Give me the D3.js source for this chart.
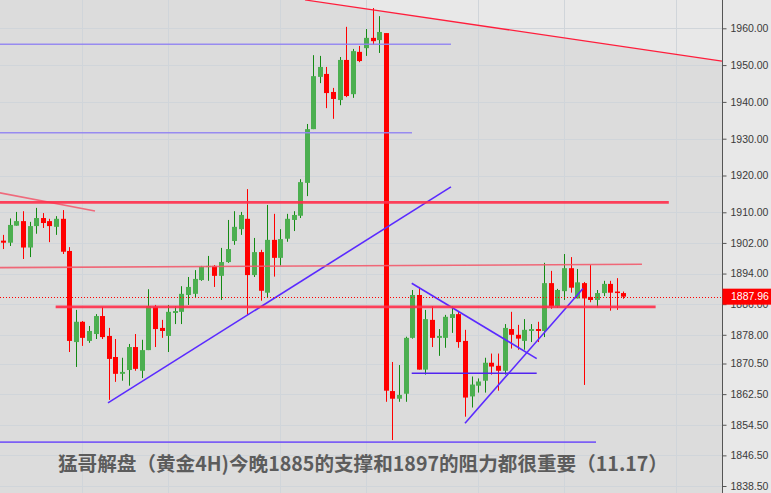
<!DOCTYPE html>
<html><head><meta charset="utf-8">
<script src="https://cdn.jsdelivr.net/npm/d3@7/dist/d3.min.js"></script>
<style>html,body{margin:0;padding:0;background:#e8e8e8;overflow:hidden}</style>
</head><body>
<svg id="c" width="771" height="493"></svg>
<script>
// ---- data ----
const opens  = [1902.6,1902.06,1906.5,1907.7,1900.8,1906.4,1908.5,1907.7,1906.2,1908.3,
1899.9,1876.1,1881.4,1876.4,1878.2,1882.9,1877.7,1872.2,1867.8,1868.8,
1874.8,1868.6,1874.0,1885.3,1879.8,1877.7,1883.7,1884.0,1888.4,1888.7,
1892.3,1895.7,1896.0,1893.4,1897.0,1902.5,1905.6,1908.3,1893.6,1899.6,
1889.0,1902.8,1898.1,1903.1,1908.0,1909.1,1918.0,1932.6,1946.8,1947.6,
1942.7,1940.5,1951.4,1942.1,1953.6,1954.6,1957.4,1956.8,1958.7,1863.3,
1861.3,1862.6,1877.2,1888.4,1868.9,1881.9,1877.2,1877.2,1882.4,1883.4,
1876.4,1861.9,1864.7,1866.0,1870.7,1869.9,1868.6,1879.5,1878.0,1876.4,
1879.0,1879.5,1879.0,1891.5,1885.5,1889.4,1895.4,1887.5,1891.5,1887.9,
1887.1,1888.9,1891.3,1889.3,1888.9];
const highs  = [1904.1,1908.4,1910.1,1910.3,1907.5,1911.2,1909.8,1908.3,1909.0,1910.6,
1900.9,1884.5,1881.6,1880.3,1883.4,1885.3,1879.8,1876.9,1872.0,1875.6,
1878.2,1876.7,1889.9,1885.8,1881.9,1885.8,1885.5,1890.7,1893.1,1894.9,
1896.0,1898.6,1896.2,1900.7,1908.0,1910.3,1910.1,1916.3,1903.3,1900.2,
1912.0,1909.6,1905.6,1909.6,1910.3,1919.0,1934.0,1952.7,1952.5,1949.5,
1943.8,1952.2,1960.4,1954.4,1955.2,1959.8,1965.5,1963.3,1958.7,1870.9,
1870.1,1877.5,1889.7,1890.5,1884.5,1885.5,1879.5,1883.2,1885.5,1884.0,
1879.3,1867.1,1866.6,1872.0,1873.1,1873.1,1880.8,1884.0,1880.6,1882.1,
1880.8,1881.4,1896.8,1894.7,1890.0,1899.1,1898.3,1895.2,1891.8,1896.2,
1889.7,1892.1,1892.1,1892.8,1889.3];
const lows   = [1900.4,1901.2,1906.5,1897.8,1898.3,1904.4,1905.9,1902.2,1904.1,1899.1,
1873.5,1869.6,1875.1,1875.9,1876.9,1876.9,1861.0,1865.7,1866.0,1864.7,
1868.6,1866.7,1874.0,1874.8,1877.2,1873.5,1880.8,1880.8,1885.8,1887.6,
1892.1,1892.1,1890.5,1887.1,1896.8,1901.5,1904.1,1883.2,1893.1,1886.9,
1887.7,1893.2,1896.1,1902.3,1905.1,1908.5,1914.4,1932.6,1945.1,1938.3,
1935.4,1939.1,1941.3,1941.1,1950.8,1952.5,1955.5,1953.3,1860.5,1850.5,
1860.5,1860.5,1877.0,1868.9,1867.6,1874.8,1872.5,1874.6,1878.5,1874.6,
1856.6,1859.0,1862.9,1862.9,1867.6,1863.4,1867.6,1874.4,1874.1,1874.1,
1876.1,1876.1,1877.4,1884.8,1885.0,1887.1,1889.0,1887.5,1864.9,1886.5,
1885.1,1888.1,1884.3,1884.5,1887.4];
const closes = [1902.06,1906.7,1907.7,1900.8,1906.4,1908.5,1907.2,1906.4,1908.3,1899.7,
1876.4,1881.4,1877.2,1879.0,1882.9,1877.4,1871.7,1867.8,1868.3,1874.8,
1869.1,1874.0,1885.5,1879.5,1879.0,1884.0,1884.2,1888.7,1890.5,1892.6,
1895.7,1896.0,1893.4,1897.0,1900.4,1906.2,1909.3,1893.6,1899.6,1889.5,
1902.8,1898.1,1903.0,1908.3,1909.3,1918.2,1932.6,1947.0,1949.5,1942.4,
1940.8,1951.4,1941.6,1953.8,1951.1,1957.4,1956.5,1959.0,1863.4,1861.3,
1862.3,1877.2,1888.4,1868.9,1882.1,1877.2,1877.7,1882.7,1883.4,1876.1,
1861.6,1865.0,1865.8,1870.7,1869.7,1868.6,1879.8,1878.0,1877.0,1879.3,
1879.5,1879.0,1891.5,1885.5,1889.7,1895.4,1890.3,1891.7,1887.5,1887.1,
1888.9,1891.3,1889.0,1888.9,1887.96];

const tickValues = [1960,1950,1940,1930,1920,1910,1902,1894,1886,1878,1870.5,1862.5,1854.5,1846.5,1838.5];
const gridBars = [12,25,42,55,72,85,102];
const lastPrice = 1887.96;

// drawn objects: [barIndex, price] endpoints
const trendTopRed   = [[45.74,1967.7],[108.96,1951.1]];
const trendLeftRed  = [[-0.6,1915.33],[13.9,1910.35]];
const levelRed1912  = [[-0.6,1912.7],[100.9,1912.7]];
const levelRed1896  = [[-0.6,1895.54],[96.83,1896.42]];
const levelRed1885  = [[7.94,1885.27],[98.9,1885.27]];
const levelBlue1955 = [[-0.6,1955.65],[67.87,1955.65]];
const levelBlue1931 = [[-0.6,1931.63],[61.96,1931.63]];
const levelBlue1850 = [[-0.6,1849.95],[89.86,1849.95]];
const levelBlue1868 = [[61.92,1867.96],[80.87,1867.96]];
const trendBlueUp1  = [[15.87,1860.21],[67.87,1916.9]];
const trendBlueDown = [[61.92,1891.46],[80.87,1871.78]];
const trendBlueUp2  = [[70.0,1854.91],[87.89,1890.1]];

const caption = "猛哥解盘（黄金4H)今晚1885的支撑和1897的阻力都很重要（11.17）";

// ---- drawing ----
const W = 771, H = 493, plotR = 722;
const svg = d3.select("#c");
const x = d3.scaleLinear().domain([0, opens.length - 1]).range([3.3, 623.3]);
const y = d3.scaleLinear().domain([1960, 1910, 1838.5]).range([28.3, 212.3, 486]);

svg.append("rect").attr("width", W).attr("height", H).attr("fill", "#e8e8e8");
svg.append("defs").append("clipPath").attr("id", "pc")
  .append("rect").attr("x", 0).attr("y", 0).attr("width", plotR).attr("height", H);
const plot = svg.append("g").attr("clip-path", "url(#pc)");
plot.append("rect").attr("width", plotR).attr("height", H).attr("fill", "#dcdcdc");

// lighter zone above top red trend line
const tl = trendTopRed;
plot.append("path")
  .attr("d", `M${x(tl[0][0])},${y(tl[0][1])}L${x(tl[1][0])},${y(tl[1][1])}L${x(tl[1][0])},-5L${x(tl[0][0])},-5Z`)
  .attr("fill", "#e8e8e8");

// grid
plot.append("g").selectAll("line").data(tickValues).join("line")
  .attr("x1", 0).attr("x2", plotR)
  .attr("y1", d => Math.round(y(d)) + 0.5).attr("y2", d => Math.round(y(d)) + 0.5)
  .attr("stroke", "#d0d5da").attr("stroke-width", 1);
plot.append("g").selectAll("line").data(gridBars).join("line")
  .attr("x1", d => Math.round(x(d)) + 0.5).attr("x2", d => Math.round(x(d)) + 0.5)
  .attr("y1", 0).attr("y2", H)
  .attr("stroke", "#d0d5da").attr("stroke-width", 1);

// candles
const idx = d3.range(opens.length);
const up = i => closes[i] >= opens[i];
const cg = plot.append("g");
cg.selectAll("line.w").data(idx).join("line").attr("class", "w")
  .attr("x1", i => Math.round(x(i)) + 0.5).attr("x2", i => Math.round(x(i)) + 0.5)
  .attr("y1", i => y(highs[i])).attr("y2", i => y(lows[i]))
  .attr("stroke", i => up(i) ? "#138a13" : "#ff0000").attr("stroke-width", 1);
cg.selectAll("rect.b").data(idx).join("rect").attr("class", "b")
  .attr("x", i => Math.round(x(i)) - 2)
  .attr("width", 5)
  .attr("y", i => y(Math.max(opens[i], closes[i])))
  .attr("height", i => Math.max(1.2, Math.abs(y(opens[i]) - y(closes[i]))))
  .attr("fill", i => up(i) ? "#4caf50" : "#ff0000");

// drawn objects
const line = d3.line().x(d => x(d[0])).y(d => y(d[1]));
function draw(pts, color, w, op) {
  plot.append("path").attr("d", line(pts)).attr("fill", "none")
    .attr("stroke", color).attr("stroke-width", w).attr("stroke-opacity", op || 1);
}
draw(levelBlue1955, "#8f82f2", 1.6, 0.9);
draw(levelBlue1931, "#8f82f2", 1.6, 0.9);
draw(levelBlue1850, "#7657f6", 1.6, 0.95);
draw(levelBlue1868, "#5224f0", 1.6);
draw(trendBlueUp1, "#5a2aff", 1.6);
draw(trendBlueDown, "#5a2aff", 1.6);
draw(trendBlueUp2, "#5a2aff", 1.6);
draw(trendLeftRed, "#ef6a7c", 1.6);
draw(trendTopRed, "#ff1e3c", 1.3);
draw(levelRed1896, "#f25a6c", 1.6, 0.9);
draw(levelRed1912, "#ff2e4a", 2.8, 0.9);
draw(levelRed1885, "#ff2e4a", 2.8, 0.9);
plot.append("line")
  .attr("x1", 0).attr("x2", plotR)
  .attr("y1", Math.round(y(lastPrice)) + 0.5).attr("y2", Math.round(y(lastPrice)) + 0.5)
  .attr("stroke", "#ff0000").attr("stroke-width", 1.2).attr("stroke-dasharray", "1,2");

// right axis
const ax = svg.append("g").attr("transform", `translate(${plotR + 0.5},0)`)
  .call(d3.axisRight(y).tickValues(tickValues).tickFormat(d3.format(".2f")).tickSize(4).tickPadding(4));
ax.select(".domain").attr("stroke", "#555").attr("d", `M0,0V${H}`);
ax.selectAll(".tick line").attr("stroke", "#555");
ax.selectAll(".tick text").attr("fill", "#3a3a3a")
  .style("font-family", "'Liberation Sans', Arial, sans-serif").style("font-size", "10.5px");

// last price tag (covers the 1886.00 label as in the original)
const ly = y(lastPrice);
svg.append("rect").attr("x", plotR + 0.5).attr("y", ly - 8).attr("width", W - plotR).attr("height", 16).attr("fill", "#ff0000");
svg.append("text").attr("x", plotR + 9).attr("y", ly).attr("dy", "0.35em")
  .attr("fill", "#ffffff").style("font-family", "'Liberation Sans', Arial, sans-serif")
  .style("font-size", "10.5px").text(d3.format(".2f")(lastPrice));

// caption
svg.append("text").attr("x", 363).attr("y", 471).attr("text-anchor", "middle")
  .attr("fill", "#5c5c5c").style("font-family", "'Noto Sans CJK SC', sans-serif")
  .style("font-weight", "bold").style("font-size", "19.6px").text(caption);
</script>
</body></html>
